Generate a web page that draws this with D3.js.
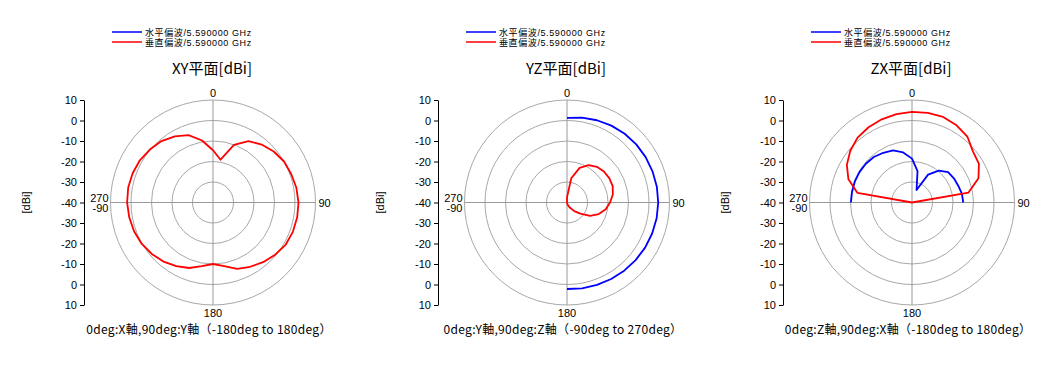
<!DOCTYPE html>
<html>
<head>
<meta charset="utf-8">
<script src="https://cdn.jsdelivr.net/npm/d3@7"></script>
<style>
  body { margin: 0; background: #fff; }
  text { font-family: "Liberation Sans", Arial, sans-serif; fill: #000; }
  .jp { font-family: "Noto Sans CJK JP", "Liberation Sans", sans-serif; }
  .lg { font-family: "Liberation Sans", "Noto Sans CJK JP", sans-serif; }
</style>
</head>
<body>
<div id="chart"></div>
<script>
// legend / titles
var legendLabels = ["水平偏波/5.590000 GHz", "垂直偏波/5.590000 GHz"];
var seriesColors = ["#0000ff", "#ff0000"];
var panelTitles = ["XY平面[dBi]", "YZ平面[dBi]", "ZX平面[dBi]"];
var panelCaptions = [
    "0deg:X軸,90deg:Y軸（-180deg to 180deg）",
    "0deg:Y軸,90deg:Z軸（-90deg to 270deg）",
    "0deg:Z軸,90deg:X軸（-180deg to 180deg）"
];
var radialTicks = [10, 0, -10, -20, -30, -40, -30, -20, -10, 0, 10];
var ringLevels = [-30, -20, -10, 0, 10];

// XY plane
var xyAngles = [-180, -170, -160, -150, -140, -130, -120, -110, -100, -90, -80, -70, -60, -50, -40, -30, -20, -10,
    0, 10, 20, 30, 40, 50, 60, 70, 80, 90, 100, 110, 120, 130, 140, 150, 160, 170, 180];
var xyHoriz = [];
var xyVert = [-10, -8.5, -6, -4.2, -2.4, -1, 0.2, 1, 1.5, 1.9, 2, 1.7, 1.2, 0.2, -0.9, -2.8, -5, -9.3,
    -14.5, -18.8, -10.1, -5.4, -3.1, -1.3, 0, 0.6, 1.3, 1.7, 1.7, 1.5, 1.0, -0.4, -2, -3.8, -5.6, -8.5, -10];

// YZ plane
var yzAngles = [-90, -80, -70, -60, -50, -40, -30, -20, -10,
    0, 10, 20, 30, 40, 50, 60, 70, 80, 90, 100, 110, 120, 130, 140, 150, 160, 170, 180,
    190, 200, 210, 220, 230, 240, 250, 260, 270];
var yzHoriz = [null, null, null, null, null, null, null, null, null,
    1.3, 2.0, 2.7, 3.3, 3.8, 4.1, 4.3, 4.4, 4.5, 4.5, 4.4, 4.2, 4.0, 3.7, 3.4, 3.1, 2.8, 2.5, 2.2,
    null, null, null, null, null, null, null, null, null];
var yzVert = [-40, -40, -40, -40, -40, -40, -40, -40, -40,
    -37.5, -28, -22, -19, -17.3, -16.5, -16.2, -16.3, -17.3, -19, -20.8, -23.5, -27, -31.5, -34.5, -37, -38.5, -39.5, -40,
    -40, -40, -40, -40, -40, -40, -40, -40, -40];

// ZX plane
var zxAngles = xyAngles.slice();
var zxHoriz = [null, null, null, null, null, null, null, null, null,
    -10.2, -10.3, -10.3, -10.4, -10.6, -11, -12, -13, -15.2,
    -18.6, -24.5, -33.5, -24.3, -19.7, -17, -16.4, -16, -15.3, -15,
    null, null, null, null, null, null, null, null, null];
var zxVert = [-40, -40, -40, -40, -40, -40, -40, -40, -40,
    -40, -13, -7, -3.3, -0.7, 1.3, 2.4, 3.2, 3.8,
    4.2, 4.4, 4.4, 3.5, 2.0, -1.2, -2.3, -5.5, -12, -40,
    -40, -40, -40, -40, -40, -40, -40, -40, -40];

var panels = [
    { cx: 213, angles: xyAngles, series: [xyHoriz, xyVert] },
    { cx: 567, angles: yzAngles, series: [yzHoriz, yzVert] },
    { cx: 912, angles: zxAngles, series: [zxHoriz, zxVert] }
];

var width = 1045, height = 370;
var cy = 202.5, R = 102.5;

var svg = d3.select("#chart").append("svg")
    .attr("width", width)
    .attr("height", height);

var rScale = d3.scaleLinear().domain([-40, 10]).range([0, R]).clamp(true);

panels.forEach(function(p, pi) {
    var g = svg.append("g").attr("transform", "translate(" + p.cx + "," + cy + ")");

    // legend
    legendLabels.forEach(function(lbl, i) {
        var ly = 32 + i * 10 - cy;
        g.append("line")
            .attr("x1", -101).attr("x2", -71)
            .attr("y1", ly).attr("y2", ly)
            .attr("stroke", seriesColors[i])
            .attr("stroke-width", 1.5);
        g.append("text")
            .attr("class", "lg")
            .attr("x", -68).attr("y", ly + 3.5)
            .attr("font-size", 9)
            .attr("letter-spacing", 0.6)
            .text(lbl);
    });

    // title
    g.append("text")
        .attr("class", "jp")
        .attr("x", -1).attr("y", 74 - cy)
        .attr("text-anchor", "middle")
        .attr("font-size", 15)
        .text(panelTitles[pi]);

    // rings + cross
    g.selectAll(".ring").data(ringLevels).enter().append("circle")
        .attr("class", "ring")
        .attr("r", function(d) { return rScale(d); })
        .attr("fill", "none")
        .attr("stroke", "#a8a8a8")
        .attr("stroke-width", 1);
    g.append("line").attr("x1", -R).attr("x2", R).attr("y1", 0).attr("y2", 0)
        .attr("stroke", "#999").attr("stroke-width", 1);
    g.append("line").attr("x1", 0).attr("x2", 0).attr("y1", -R).attr("y2", R)
        .attr("stroke", "#999").attr("stroke-width", 1);

    // angle labels
    g.append("text").attr("x", 0).attr("y", -R - 3).attr("text-anchor", "middle")
        .attr("font-size", 11).text("0");
    g.append("text").attr("x", 0).attr("y", R + 12).attr("text-anchor", "middle")
        .attr("font-size", 11).text("180");
    g.append("text").attr("x", R + 3).attr("y", 4).attr("font-size", 11).text("90");
    g.append("text").attr("x", -R - 2).attr("y", -1).attr("text-anchor", "end")
        .attr("font-size", 11).text("270");
    g.append("text").attr("x", -R - 2).attr("y", 9).attr("text-anchor", "end")
        .attr("font-size", 11).text("-90");

    // radial axis on the left
    var yPos = d3.scalePoint()
        .domain(d3.range(radialTicks.length))
        .range([-R, R]);
    g.append("g")
        .attr("transform", "translate(" + (-129) + ",0)")
        .call(d3.axisLeft(yPos).tickSizeInner(4).tickSizeOuter(0).tickPadding(3)
            .tickFormat(function(i) { return radialTicks[i]; }))
        .call(function(ax) {
            ax.select(".domain").attr("stroke", "#000");
            ax.selectAll("text").attr("font-size", 11)
                .style("font-family", "'Liberation Sans', Arial, sans-serif");
        });

    g.append("text")
        .attr("transform", "translate(" + (-183) + ",0) rotate(-90)")
        .attr("text-anchor", "middle")
        .attr("font-size", 11)
        .text("[dBi]");

    // curves
    var line = d3.lineRadial()
        .defined(function(d) { return d.v != null; })
        .angle(function(d) { return d.a * Math.PI / 180; })
        .radius(function(d) { return rScale(d.v); });

    p.series.forEach(function(vals, si) {
        if (!vals.length) return;
        var pts = vals.map(function(v, k) { return { a: p.angles[k], v: v }; });
        g.append("path")
            .datum(pts)
            .attr("d", line)
            .attr("fill", "none")
            .attr("stroke", seriesColors[si])
            .attr("stroke-width", 1.8)
            .attr("stroke-linejoin", "round");
    });

    // caption
    g.append("text")
        .attr("class", "jp")
        .attr("x", -4).attr("y", 334 - cy)
        .attr("text-anchor", "middle")
        .attr("font-size", 12)
        .attr("letter-spacing", 0.3)
        .text(panelCaptions[pi]);
});
</script>
</body>
</html>
